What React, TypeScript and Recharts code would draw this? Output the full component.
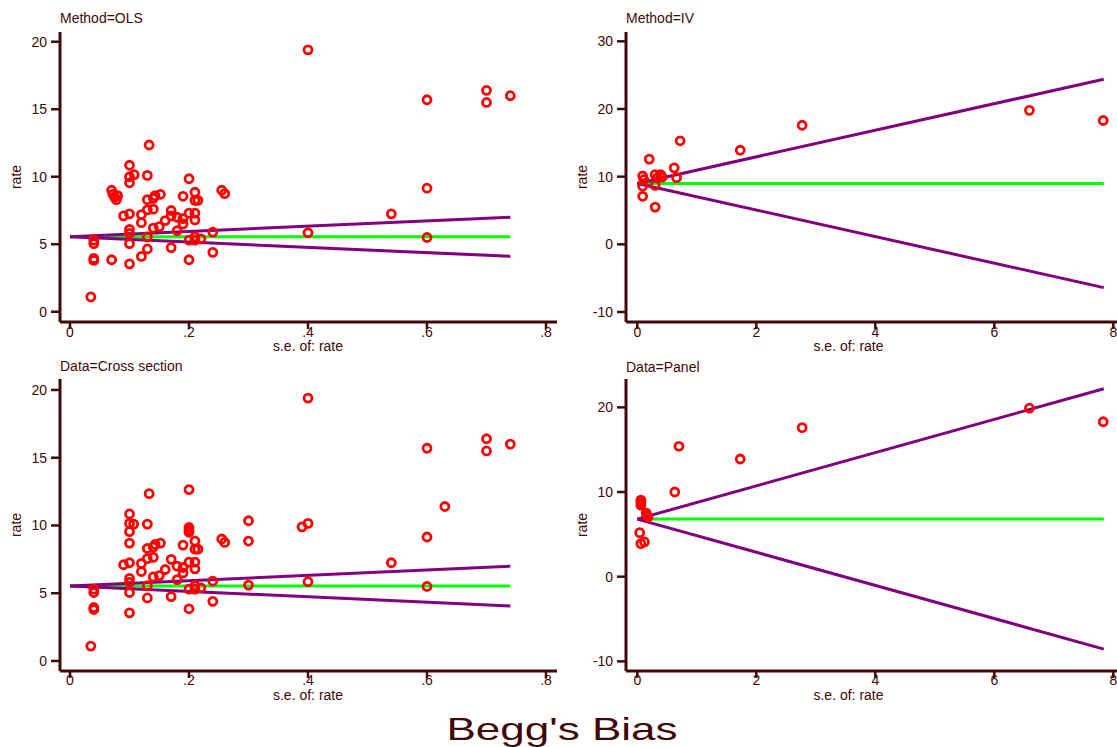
import { Scatter, ScatterChart, XAxis, YAxis } from "recharts";

const ink = "#400808";
const red = "#ff0000";
const purple = "#800080";
const green = "#00ff00";
const font = '"Liberation Sans", Arial, Helvetica, sans-serif';

// Method=OLS
const olsSe = [
  0.035, 0.04, 0.04, 0.04, 0.04, 0.07, 0.07, 0.072, 0.075, 0.078, 0.08, 0.09, 0.1,
  0.1, 0.1, 0.1, 0.1, 0.1, 0.1, 0.1, 0.108, 0.12, 0.12, 0.12, 0.13, 0.13, 0.13, 0.13,
  0.13, 0.133, 0.14, 0.14, 0.14, 0.143, 0.15, 0.152, 0.16, 0.17, 0.17, 0.17, 0.18, 0.18,
  0.19, 0.19, 0.19, 0.2, 0.2, 0.2, 0.2, 0.21, 0.21, 0.21, 0.21, 0.21, 0.21, 0.215, 0.22,
  0.24, 0.24, 0.255, 0.26, 0.4, 0.4, 0.54, 0.6, 0.6, 0.6, 0.7, 0.7, 0.74,
];
const olsRate = [
  1.1, 3.8, 3.95, 5.05, 5.3, 3.85, 9.0, 8.7, 8.5, 8.3, 8.6, 7.1, 7.25,
  3.55, 5.05, 5.8, 6.1, 9.55, 10.0, 10.85, 10.15, 4.1, 6.6, 7.2, 4.65, 5.55, 7.55, 8.3,
  10.1, 12.35, 6.2, 7.6, 8.4, 8.6, 6.3, 8.7, 6.75, 4.75, 7.1, 7.5, 6.0, 7.0,
  6.5, 6.9, 8.55, 3.85, 5.3, 7.3, 9.85, 5.3, 5.55, 6.8, 7.3, 8.25, 8.85, 8.25, 5.4,
  4.4, 5.9, 9.0, 8.75, 5.85, 19.4, 7.25, 5.5, 9.15, 15.7, 15.5, 16.4, 16.0,
];
const olsLineSe = [0, 0.74];
const olsUpper = [5.56, 7.0];
const olsLower = [5.56, 4.1];
const olsFit = [5.56, 5.56];

// Method=IV
const ivSe = [
  0.09, 0.09, 0.09, 0.11, 0.2, 0.3, 0.3, 0.3, 0.34, 0.39, 0.42, 0.62, 0.66, 0.72,
  1.73, 2.77, 6.59, 7.83,
];
const ivRate = [
  7.1, 8.6, 10.1, 9.55, 12.6, 5.5, 8.7, 10.3, 9.85, 10.3, 9.95, 11.3, 9.85, 15.3,
  13.9, 17.6, 19.8, 18.3,
];
const ivLineSe = [0, 7.84];
const ivUpper = [9.0, 24.4];
const ivLower = [9.0, -6.4];
const ivFit = [9.0, 9.0];

// Data=Cross section
const csSe = [
  0.035, 0.04, 0.04, 0.04, 0.04, 0.1, 0.1, 0.1, 0.1, 0.1, 0.1, 0.1, 0.107, 0.1,
  0.09, 0.1, 0.12, 0.12, 0.13, 0.13, 0.13, 0.13, 0.13, 0.133, 0.14, 0.14, 0.14, 0.143,
  0.15, 0.152, 0.16, 0.17, 0.17, 0.18, 0.18, 0.19, 0.19, 0.19, 0.2, 0.2, 0.2, 0.2, 0.2,
  0.2, 0.2, 0.21, 0.21, 0.21, 0.21, 0.21, 0.21, 0.215, 0.22, 0.24, 0.24, 0.255, 0.26,
  0.3, 0.3, 0.3, 0.39, 0.4, 0.4, 0.4, 0.54, 0.6, 0.6, 0.6, 0.63, 0.7, 0.7, 0.74,
];
const csRate = [
  1.1, 3.8, 3.95, 5.05, 5.3, 3.55, 5.05, 5.8, 6.1, 8.7, 9.55, 10.15, 10.1, 10.85,
  7.1, 7.25, 6.6, 7.2, 4.65, 5.55, 7.55, 8.3, 10.1, 12.35, 6.2, 7.65, 8.4, 8.6,
  6.3, 8.7, 6.75, 4.75, 7.5, 6.0, 7.0, 6.5, 6.9, 8.55, 3.85, 5.3, 7.3, 9.5, 9.65,
  9.85, 12.65, 5.3, 5.55, 6.8, 7.3, 8.25, 8.85, 8.25, 5.4, 4.4, 5.9, 9.0, 8.75,
  5.6, 8.85, 10.35, 9.9, 5.85, 10.15, 19.4, 7.25, 5.5, 9.15, 15.7, 11.4, 15.5, 16.4, 16.0,
];
const csLineSe = [0, 0.74];
const csUpper = [5.53, 7.0];
const csLower = [5.53, 4.06];
const csFit = [5.53, 5.53];

// Data=Panel
const pnSe = [
  0.04, 0.06, 0.12, 0.06, 0.06, 0.06, 0.15, 0.16, 0.18, 0.63, 0.7, 1.73, 2.77, 6.59, 7.83,
];
const pnRate = [
  5.2, 3.9, 4.1, 8.45, 8.75, 9.05, 7.5, 7.2, 7.05, 10.0, 15.4, 13.9, 17.6, 19.9, 18.3,
];
const pnLineSe = [0, 7.84];
const pnUpper = [6.8, 22.2];
const pnLower = [6.8, -8.55];
const pnFit = [6.8, 6.8];

const smallTicks = [0, 0.2, 0.4, 0.6, 0.8];
const bigTicks = [0, 2, 4, 6, 8];

const pts = (xs: number[], ys: number[]) => xs.map((x, i) => ({ x, y: ys[i] }));

const Ring = (p: any) =>
  p.cx == null ? <g /> : (
    <circle cx={p.cx} cy={p.cy} r={4} fill="none" stroke={red} strokeWidth={2.8} />
  );
const NoDot = () => <g />;

const fmtSmall = (v: number) => (v === 0 ? "0" : String(v).replace(/^0/, ""));

type PanelProps = {
  left: number;
  top: number;
  width: number;
  plotTop: number;
  xAxisHeight: number;
  xTickMargin: number;
  right: number;
  se: number[];
  rate: number[];
  lineSe: number[];
  upper: number[];
  lower: number[];
  fit: number[];
  xDomain: [number, number];
  xTicks: number[];
  yDomain: [number, number];
  yTicks: number[];
};

function Panel(p: PanelProps) {
  const height = 350;
  return (
    <div style={{ position: "absolute", left: p.left, top: p.top }}>
      <ScatterChart
        width={p.width}
        height={height}
        margin={{ top: p.plotTop, right: p.right, bottom: 0, left: 0 }}
      >
        <XAxis
          type="number"
          dataKey="x"
          domain={p.xDomain}
          ticks={p.xTicks}
          interval={0}
          allowDataOverflow
          height={p.xAxisHeight}
          tickFormatter={fmtSmall}
          axisLine={{ stroke: ink, strokeWidth: 3 }}
          tickLine={{ stroke: ink, strokeWidth: 2.5 }}
          tickSize={7}
          tickMargin={p.xTickMargin}
          tick={{ fill: ink, fontSize: 14, fontFamily: font }}
        />
        <YAxis
          type="number"
          dataKey="y"
          domain={p.yDomain}
          ticks={p.yTicks}
          interval={0}
          allowDataOverflow
          width={60}
          axisLine={{ stroke: ink, strokeWidth: 3 }}
          tickLine={{ stroke: ink, strokeWidth: 2.5 }}
          tickSize={9}
          tickMargin={4}
          tick={{ fill: ink, fontSize: 14, fontFamily: font }}
        />
        <Scatter
          data={pts(p.lineSe, p.fit)}
          line={{ stroke: green, strokeWidth: 3 }}
          lineType="joint"
          shape={NoDot}
          isAnimationActive={false}
        />
        <Scatter
          data={pts(p.lineSe, p.upper)}
          line={{ stroke: purple, strokeWidth: 3 }}
          lineType="joint"
          shape={NoDot}
          isAnimationActive={false}
        />
        <Scatter
          data={pts(p.lineSe, p.lower)}
          line={{ stroke: purple, strokeWidth: 3 }}
          lineType="joint"
          shape={NoDot}
          isAnimationActive={false}
        />
        <Scatter data={pts(p.se, p.rate)} shape={Ring} isAnimationActive={false} />
      </ScatterChart>
    </div>
  );
}

const titles = [
  { text: "Method=OLS", x: 60, y: 22.5 },
  { text: "Method=IV", x: 626, y: 22.5 },
  { text: "Data=Cross section", x: 60, y: 371 },
  { text: "Data=Panel", x: 626, y: 371.5 },
];
const yLabels = [
  { x: 21, y: 177 },
  { x: 587, y: 177 },
  { x: 21, y: 525 },
  { x: 587, y: 525 },
];
const xLabels = [
  { x: 308, y: 351 },
  { x: 848.5, y: 351 },
  { x: 308, y: 700 },
  { x: 848.5, y: 700 },
];

export default function App() {
  return (
    <div
      style={{
        position: "absolute",
        left: 0,
        top: 0,
        width: 1117,
        height: 747,
        background: "#fff",
        overflow: "hidden",
        fontFamily: font,
      }}
    >
      <Panel
        left={0}
        top={0}
        width={560}
        plotTop={32}
        xAxisHeight={28}
        xTickMargin={-2}
        right={3}
        se={olsSe}
        rate={olsRate}
        lineSe={olsLineSe}
        upper={olsUpper}
        lower={olsLower}
        fit={olsFit}
        xDomain={[-0.0168, 0.8185]}
        xTicks={smallTicks}
        yDomain={[-0.76, 20.72]}
        yTicks={[0, 5, 10, 15, 20]}
      />
      <Panel
        left={566}
        top={0}
        width={551}
        plotTop={32}
        xAxisHeight={28}
        xTickMargin={-2}
        right={0}
        se={ivSe}
        rate={ivRate}
        lineSe={ivLineSe}
        upper={ivUpper}
        lower={ivLower}
        fit={ivFit}
        xDomain={[-0.19, 8.062]}
        xTicks={bigTicks}
        yDomain={[-11.48, 31.38]}
        yTicks={[-10, 0, 10, 20, 30]}
      />
      <Panel
        left={0}
        top={350}
        width={560}
        plotTop={29}
        xAxisHeight={29}
        xTickMargin={-3}
        right={3}
        se={csSe}
        rate={csRate}
        lineSe={csLineSe}
        upper={csUpper}
        lower={csLower}
        fit={csFit}
        xDomain={[-0.0168, 0.8185]}
        xTicks={smallTicks}
        yDomain={[-0.74, 20.81]}
        yTicks={[0, 5, 10, 15, 20]}
      />
      <Panel
        left={566}
        top={350}
        width={551}
        plotTop={29}
        xAxisHeight={29}
        xTickMargin={-3}
        right={0}
        se={pnSe}
        rate={pnRate}
        lineSe={pnLineSe}
        upper={pnUpper}
        lower={pnLower}
        fit={pnFit}
        xDomain={[-0.19, 8.062]}
        xTicks={bigTicks}
        yDomain={[-11.14, 23.35]}
        yTicks={[-10, 0, 10, 20]}
      />
      <svg
        width={1117}
        height={747}
        style={{ position: "absolute", left: 0, top: 0, pointerEvents: "none" }}
      >
        <g fill={ink} fontFamily={font} fontSize={14}>
          {titles.map((t) => (
            <text key={t.text} x={t.x} y={t.y}>
              {t.text}
            </text>
          ))}
          {yLabels.map((l, i) => (
            <text
              key={i}
              x={l.x}
              y={l.y}
              textAnchor="middle"
              transform={`rotate(-90 ${l.x} ${l.y})`}
            >
              rate
            </text>
          ))}
          {xLabels.map((l, i) => (
            <text key={i} x={l.x} y={l.y} textAnchor="middle">
              s.e. of: rate
            </text>
          ))}
        </g>
        <text
          x={562}
          y={740}
          fill={ink}
          fontFamily={font}
          fontSize={32}
          textAnchor="middle"
          textLength={231}
          lengthAdjust="spacingAndGlyphs"
        >
          Begg's Bias
        </text>
      </svg>
    </div>
  );
}
